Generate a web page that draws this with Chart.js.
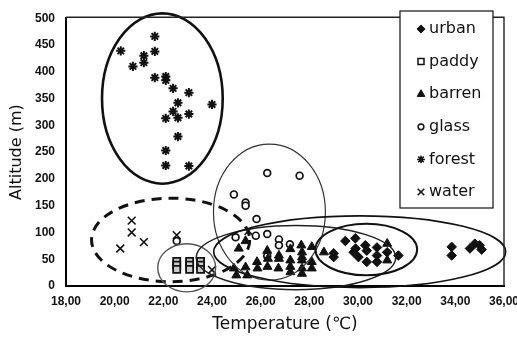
<!DOCTYPE html>
<html>
<head>
<meta charset="utf-8">
<script src="https://cdn.jsdelivr.net/npm/chart.js@4.4.1/dist/chart.umd.min.js"></script>
<style>
  html, body { margin: 0; padding: 0; background: #fff; }
</style>
</head>
<body>
<canvas id="chart" width="517" height="341"></canvas>
<script>
// temperature (°C) / altitude (m), one pair of arrays per land cover
const urbanTemp  = [29.0, 29.0, 29.48, 29.89, 29.82, 29.9, 30.02, 30.3, 30.36, 30.36, 30.78, 30.78, 30.78, 31.2, 31.66, 33.85, 33.85, 34.6, 34.8, 35.08, 35.0];
const urbanAlt   = [54, 61, 84, 89, 63, 70, 54, 76, 66, 45, 72, 57, 45, 63, 57, 73, 57, 70, 79, 68, 76];

const paddyTemp  = [22.55, 22.55, 22.55, 23.08, 23.08, 23.08, 23.53, 23.53, 23.53];
const paddyAlt   = [46, 39, 31, 46, 39, 31, 46, 39, 31];

const barrenTemp = [25.1, 25.38, 26.27, 26.75, 27.67, 28.1, 28.6, 27.7, 27.7, 27.7, 27.22, 27.22, 28.1, 25.85, 26.3, 26.75,
                    24.9, 25.38, 25.87, 26.28, 26.73, 27.22, 27.22, 27.7, 27.7, 28.1, 25.0, 25.45, 31.2, 31.2];
const barrenAlt  = [70, 84, 66, 57, 76, 73, 63, 63, 54, 48, 48, 69, 45, 45, 51, 51,
                    33, 35, 33, 36, 33, 36, 26, 33, 23, 33, 20, 20, 79, 48];

const glassTemp  = [26.27, 27.6, 24.9, 25.38, 25.38, 25.83, 24.97, 25.8, 26.27, 26.75, 26.75, 27.2, 26.27, 22.55];
const glassAlt   = [211, 206, 171, 156, 150, 125, 91, 94, 97, 87, 76, 78, 56, 84];

const forestTemp = [20.25, 20.75, 21.2, 21.2, 21.65, 21.65, 21.65, 22.1, 22.1, 22.4, 23.05, 22.6, 22.4, 22.1, 22.6, 23.05, 22.6, 22.1, 22.1, 23.05, 24.0];
const forestAlt  = [439, 410, 430, 417, 466, 438, 389, 391, 384, 369, 361, 342, 326, 313, 314, 321, 279, 253, 225, 224, 339];

const waterTemp  = [20.23, 20.7, 20.7, 21.2, 22.55, 24.0, 25.5];
const waterAlt   = [70, 122, 100, 82, 95, 30, 103];

const seriesNames = ['urban', 'paddy', 'barren', 'glass', 'forest', 'water'];

const xTicks = [18, 20, 22, 24, 26, 28, 30, 32, 34, 36];
const yTicks = [0, 50, 100, 150, 200, 250, 300, 350, 400, 450, 500];

// hand-drawn group outlines: [centre temp, centre alt, half-width °C, half-height m]
const groupOutlines = [
  [21.96, 350, 2.48, 159],  // forest
  [26.36, 138, 2.30, 127],  // glass
  [22.30, 86, 3.25, 78],    // water (dashed)
  [22.96, 34, 1.19, 45],    // paddy
  [27.45, 53, 4.10, 60],    // barren
  [30.07, 64, 6.00, 67],    // urban, wide
  [30.34, 68, 2.09, 48]     // urban, inner
];
const outlineStyle = [
  { w: 2.6, c: '#111' },
  { w: 1.2, c: '#333' },
  { w: 3, c: '#111', dash: [10, 7] },
  { w: 1.4, c: '#555' },
  { w: 1.5, c: '#222' },
  { w: 1.6, c: '#111' },
  { w: 2, c: '#111' }
];

const pts = (xs, ys) => xs.map((v, i) => ({ x: v, y: ys[i] }));

const markers = [
  { pointStyle: 'rectRot',  radius: 4.8, borderWidth: 1, bg: '#111' },
  { pointStyle: 'rect',     radius: 5,   borderWidth: 1.8, bg: '#ccc' },
  { pointStyle: 'triangle', radius: 5.2, borderWidth: 1, bg: '#111' },
  { pointStyle: 'circle',   radius: 3.4, borderWidth: 1.7, bg: '#fff' },
  { pointStyle: 'star',     radius: 4.6, borderWidth: 2, bg: '#111' },
  { pointStyle: 'crossRot', radius: 5.5, borderWidth: 1.6, bg: '#111' }
];

const seriesData = [
  pts(urbanTemp, urbanAlt),
  pts(paddyTemp, paddyAlt),
  pts(barrenTemp, barrenAlt),
  pts(glassTemp, glassAlt),
  pts(forestTemp, forestAlt),
  pts(waterTemp, waterAlt)
];

const outlinesPlugin = {
  id: 'outlines',
  afterDatasetsDraw(chart) {
    const { ctx, chartArea: a, scales: { x, y } } = chart;
    ctx.save();
    groupOutlines.forEach((g, i) => {
      const cx = x.getPixelForValue(g[0]);
      const cy = y.getPixelForValue(g[1]);
      const rx = Math.abs(x.getPixelForValue(g[0] + g[2]) - cx);
      const ry = Math.abs(y.getPixelForValue(g[1] + g[3]) - cy);
      const st = outlineStyle[i];
      ctx.beginPath();
      ctx.ellipse(cx, cy, rx, ry, 0, 0, Math.PI * 2);
      ctx.lineWidth = st.w;
      ctx.strokeStyle = st.c;
      ctx.setLineDash(st.dash || []);
      ctx.stroke();
    });
    ctx.setLineDash([]);
    // top and right edge of the plot box
    ctx.strokeStyle = '#222';
    ctx.lineWidth = 1.4;
    ctx.beginPath();
    ctx.moveTo(a.left, a.top - 1);
    ctx.lineTo(a.right, a.top - 1);
    ctx.lineTo(a.right, a.bottom);
    ctx.stroke();
    ctx.restore();
  },
  afterDraw(chart) {
    const ctx = chart.ctx;
    const bx = 400, by = 11, bw = 93, bh = 197;
    ctx.save();
    ctx.fillStyle = '#fff';
    ctx.fillRect(bx, by, bw, bh);
    ctx.strokeStyle = '#111';
    ctx.lineWidth = 1.2;
    ctx.strokeRect(bx, by, bw, bh);
    ctx.font = '16px "DejaVu Sans"';
    ctx.textBaseline = 'middle';
    chart.data.datasets.forEach((ds, i) => {
      const yy = 29 + i * 32.6;
      const m = markers[i];
      ctx.fillStyle = i === 1 ? '#fff' : m.bg;
      ctx.strokeStyle = '#111';
      ctx.lineWidth = Math.min(m.borderWidth, 1.5);
      Chart.helpers.drawPoint(ctx, { pointStyle: m.pointStyle, radius: m.radius * 0.85, rotation: 0, borderWidth: m.borderWidth }, 421, yy);
      ctx.fillStyle = '#111';
      ctx.fillText(ds.label, 429, yy);
    });
    ctx.restore();
  }
};

new Chart(document.getElementById('chart'), {
  type: 'scatter',
  data: {
    datasets: seriesNames.map((name, i) => ({
      label: name,
      data: seriesData[i],
      pointStyle: markers[i].pointStyle,
      pointRadius: markers[i].radius,
      pointHoverRadius: markers[i].radius,
      pointBorderWidth: markers[i].borderWidth,
      borderColor: '#111',
      backgroundColor: markers[i].bg
    }))
  },
  options: {
    responsive: false,
    animation: false,
    devicePixelRatio: 1,
    layout: { padding: { top: 14, right: 13, left: 0, bottom: 0 } },
    plugins: {
      legend: { display: false },
      tooltip: { enabled: false }
    },
    scales: {
      x: {
        type: 'linear',
        min: 18,
        max: 36,
        afterFit: s => { s.height = 55; s.paddingLeft = 0; s.paddingRight = 0; },
        afterBuildTicks: s => { s.ticks = xTicks.map(v => ({ value: v })); },
        grid: { display: false, drawTicks: false },
        border: { color: '#000', width: 2 },
        ticks: {
          padding: 8,
          color: '#111',
          font: { family: '"Liberation Sans", Arial', size: 12, weight: 'bold' },
          callback: v => v.toFixed(2).replace('.', ',')
        },
        title: {
          display: true,
          text: 'Temperature (℃)',
          color: '#111',
          padding: 6,
          font: { family: '"DejaVu Sans"', size: 17 }
        }
      },
      y: {
        min: 0,
        max: 500,
        afterFit: s => { s.width = 66; },
        afterBuildTicks: s => { s.ticks = yTicks.map(v => ({ value: v })); },
        grid: { display: false, drawTicks: false },
        border: { color: '#000', width: 2 },
        ticks: {
          padding: 11,
          color: '#111',
          font: { family: '"Liberation Sans", Arial', size: 12, weight: 'bold' },
          callback: v => String(v)
        },
        title: {
          display: true,
          text: 'Altitude (m)',
          color: '#111',
          padding: 7,
          font: { family: '"DejaVu Sans"', size: 16 }
        }
      }
    }
  },
  plugins: [outlinesPlugin]
});
</script>
</body>
</html>
